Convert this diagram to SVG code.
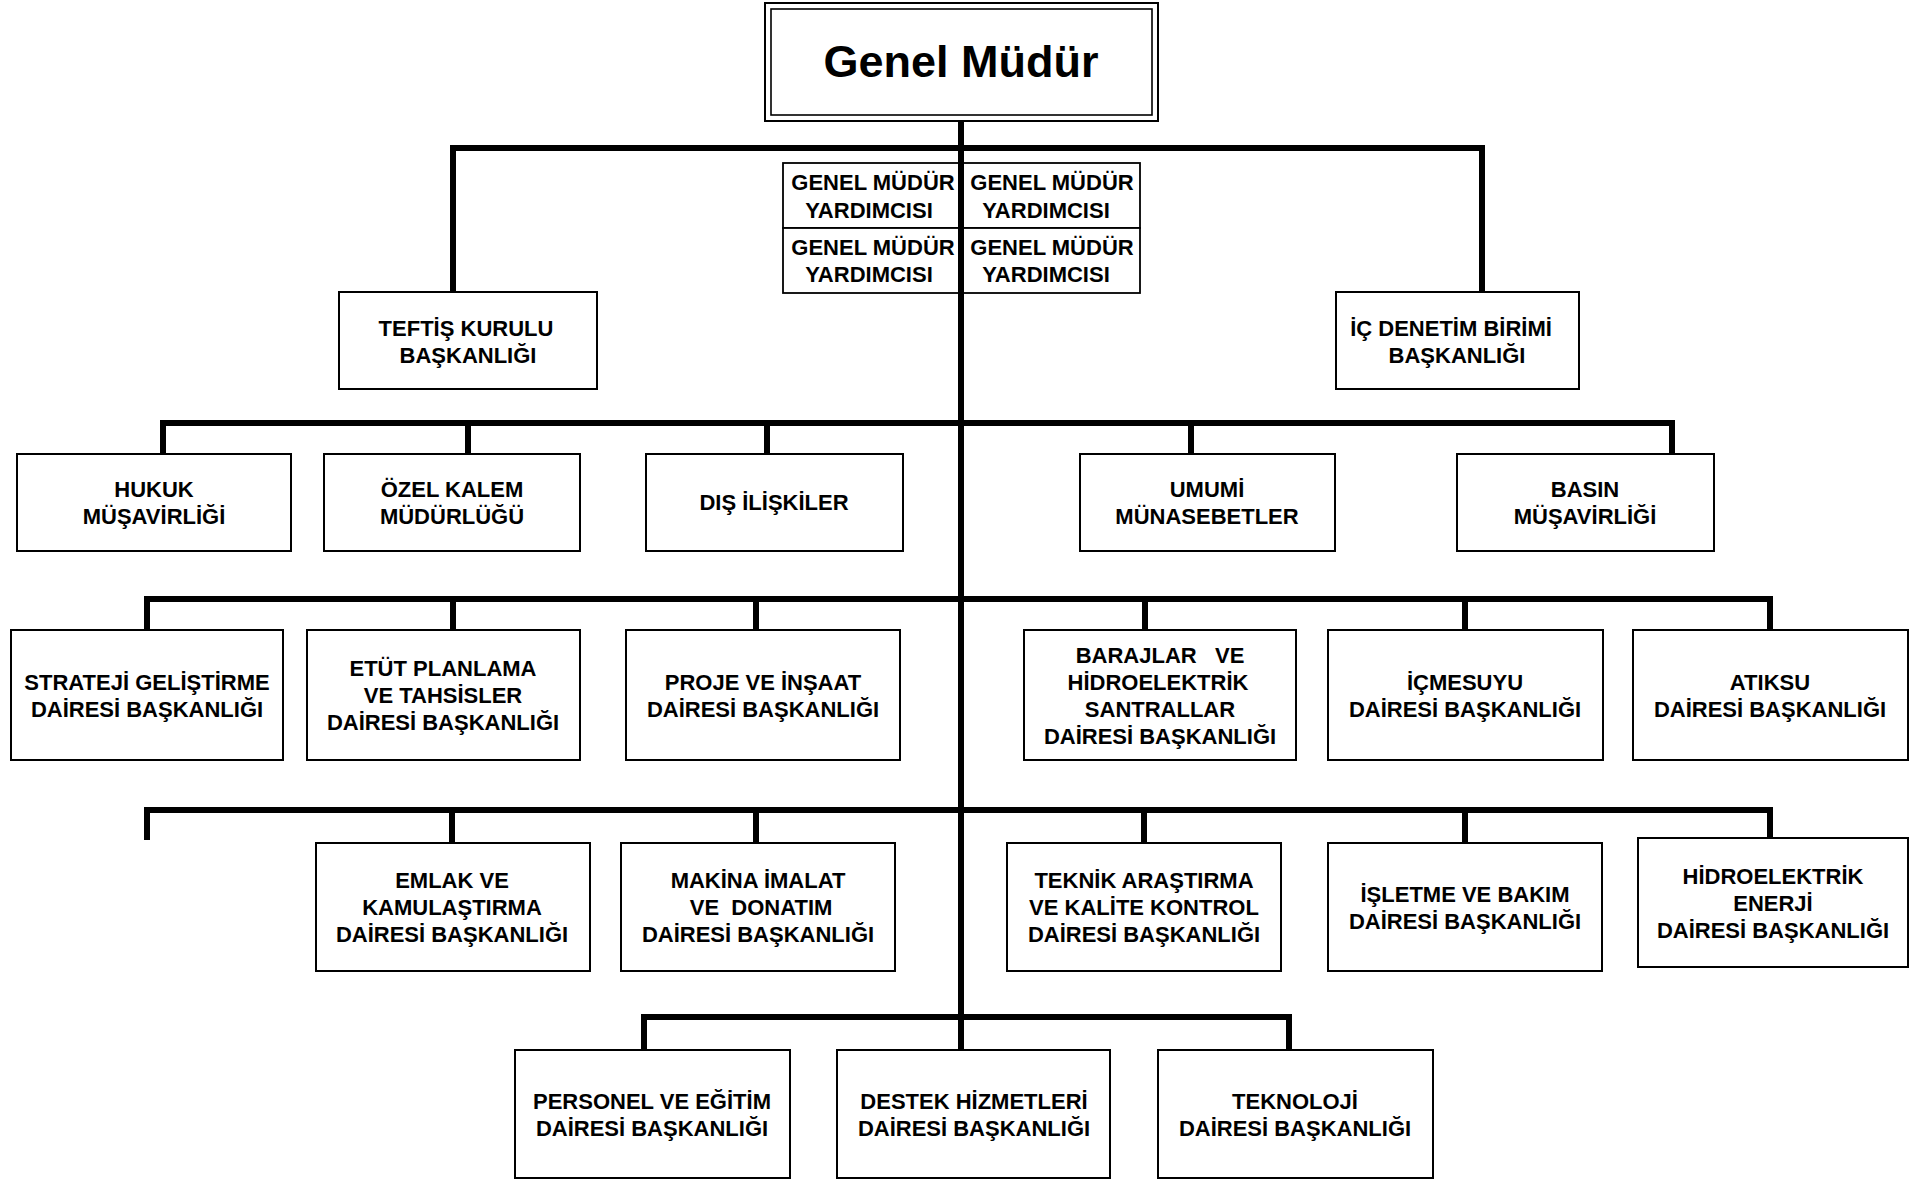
<svg xmlns="http://www.w3.org/2000/svg" width="1910" height="1179" viewBox="0 0 1910 1179">
<style>
.box{fill:#fff;stroke:#000;stroke-width:2}
.cell{fill:#fff;stroke:#000;stroke-width:1.8}
.t{font-family:"Liberation Sans",Arial,sans-serif;font-weight:bold;font-size:22px;fill:#000;text-anchor:middle}
.gm{font-family:"Liberation Sans",Arial,sans-serif;font-weight:bold;font-size:45px;fill:#000;text-anchor:middle}
.c{fill:none;stroke:#000;stroke-width:6;stroke-linejoin:miter}
</style>
<rect width="1910" height="1179" fill="#fff"/>
<g id="genel-mudur">
<rect x="765" y="3" width="393" height="118" fill="#fff" stroke="#000" stroke-width="2"/>
<rect x="771" y="9" width="381" height="106" fill="none" stroke="#000" stroke-width="1.6"/>
<text class="gm" x="961" y="77">Genel Müdür</text>
</g>
<g id="gmy">
<rect class="cell" x="783" y="163" width="178" height="65"/>
<rect class="cell" x="961" y="163" width="179" height="65"/>
<rect class="cell" x="783" y="228" width="178" height="65"/>
<rect class="cell" x="961" y="228" width="179" height="65"/>
<text class="t" x="873" y="190">GENEL MÜDÜR</text>
<text class="t" x="869" y="218">YARDIMCISI</text>
<text class="t" x="1052" y="190">GENEL MÜDÜR</text>
<text class="t" x="1046" y="218">YARDIMCISI</text>
<text class="t" x="873" y="255">GENEL MÜDÜR</text>
<text class="t" x="869" y="282">YARDIMCISI</text>
<text class="t" x="1052" y="255">GENEL MÜDÜR</text>
<text class="t" x="1046" y="282">YARDIMCISI</text>
</g>
<g id="teftis"><rect class="box" x="339" y="292" width="258" height="97"/>
<text class="t" x="466" y="336">TEFTİŞ KURULU</text><text class="t" x="468" y="363">BAŞKANLIĞI</text></g>
<g id="ic-denetim"><rect class="box" x="1336" y="292" width="243" height="97"/>
<text class="t" x="1451" y="336">İÇ DENETİM BİRİMİ</text><text class="t" x="1457" y="363">BAŞKANLIĞI</text></g>

<g id="hukuk"><rect class="box" x="17" y="454" width="274" height="97"/>
<text class="t" x="154" y="497">HUKUK</text><text class="t" x="154" y="524">MÜŞAVİRLİĞİ</text></g>
<g id="ozel-kalem"><rect class="box" x="324" y="454" width="256" height="97"/>
<text class="t" x="452" y="497">ÖZEL KALEM</text><text class="t" x="452" y="524">MÜDÜRLÜĞÜ</text></g>
<g id="dis-iliskiler"><rect class="box" x="646" y="454" width="257" height="97"/>
<text class="t" x="774" y="510">DIŞ İLİŞKİLER</text></g>
<g id="umumi"><rect class="box" x="1080" y="454" width="255" height="97"/>
<text class="t" x="1207" y="497">UMUMİ</text><text class="t" x="1207" y="524">MÜNASEBETLER</text></g>
<g id="basin"><rect class="box" x="1457" y="454" width="257" height="97"/>
<text class="t" x="1585" y="497">BASIN</text><text class="t" x="1585" y="524">MÜŞAVİRLİĞİ</text></g>

<g id="strateji"><rect class="box" x="11" y="630" width="272" height="130"/>
<text class="t" x="147" y="689.5">STRATEJİ GELİŞTİRME</text><text class="t" x="147" y="716.5">DAİRESİ BAŞKANLIĞI</text></g>
<g id="etut"><rect class="box" x="307" y="630" width="273" height="130"/>
<text class="t" x="443" y="676">ETÜT PLANLAMA</text><text class="t" x="443" y="703">VE TAHSİSLER</text><text class="t" x="443" y="730">DAİRESİ BAŞKANLIĞI</text></g>
<g id="proje"><rect class="box" x="626" y="630" width="274" height="130"/>
<text class="t" x="763" y="689.5">PROJE VE İNŞAAT</text><text class="t" x="763" y="716.5">DAİRESİ BAŞKANLIĞI</text></g>
<g id="barajlar"><rect class="box" x="1024" y="630" width="272" height="130"/>
<text class="t" x="1160" y="662.5" xml:space="preserve">BARAJLAR   VE</text><text class="t" x="1158" y="689.5">HİDROELEKTRİK</text><text class="t" x="1160" y="716.5">SANTRALLAR</text><text class="t" x="1160" y="743.5">DAİRESİ BAŞKANLIĞI</text></g>
<g id="icmesuyu"><rect class="box" x="1328" y="630" width="275" height="130"/>
<text class="t" x="1465" y="689.5">İÇMESUYU</text><text class="t" x="1465" y="716.5">DAİRESİ BAŞKANLIĞI</text></g>
<g id="atiksu"><rect class="box" x="1633" y="630" width="275" height="130"/>
<text class="t" x="1770" y="689.5">ATIKSU</text><text class="t" x="1770" y="716.5">DAİRESİ BAŞKANLIĞI</text></g>

<g id="emlak"><rect class="box" x="316" y="843" width="274" height="128"/>
<text class="t" x="452" y="888">EMLAK VE</text><text class="t" x="452" y="915">KAMULAŞTIRMA</text><text class="t" x="452" y="942">DAİRESİ BAŞKANLIĞI</text></g>
<g id="makina"><rect class="box" x="621" y="843" width="274" height="128"/>
<text class="t" x="758" y="888">MAKİNA İMALAT</text><text class="t" x="758" y="915" xml:space="preserve"> VE  DONATIM</text><text class="t" x="758" y="942">DAİRESİ BAŞKANLIĞI</text></g>
<g id="teknik"><rect class="box" x="1007" y="843" width="274" height="128"/>
<text class="t" x="1144" y="888">TEKNİK ARAŞTIRMA</text><text class="t" x="1144" y="915">VE KALİTE KONTROL</text><text class="t" x="1144" y="942">DAİRESİ BAŞKANLIĞI</text></g>
<g id="isletme"><rect class="box" x="1328" y="843" width="274" height="128"/>
<text class="t" x="1465" y="901.5">İŞLETME VE BAKIM</text><text class="t" x="1465" y="928.5">DAİRESİ BAŞKANLIĞI</text></g>
<g id="hidroelektrik"><rect class="box" x="1638" y="838" width="270" height="129"/>
<text class="t" x="1773" y="883.5">HİDROELEKTRİK</text><text class="t" x="1773" y="910.5">ENERJİ</text><text class="t" x="1773" y="937.5">DAİRESİ BAŞKANLIĞI</text></g>

<g id="personel"><rect class="box" x="515" y="1050" width="275" height="128"/>
<text class="t" x="652" y="1108.5">PERSONEL VE EĞİTİM</text><text class="t" x="652" y="1135.5">DAİRESİ BAŞKANLIĞI</text></g>
<g id="destek"><rect class="box" x="837" y="1050" width="273" height="128"/>
<text class="t" x="974" y="1108.5">DESTEK HİZMETLERİ</text><text class="t" x="974" y="1135.5">DAİRESİ BAŞKANLIĞI</text></g>
<g id="teknoloji"><rect class="box" x="1158" y="1050" width="275" height="128"/>
<text class="t" x="1295" y="1108.5">TEKNOLOJİ</text><text class="t" x="1295" y="1135.5">DAİRESİ BAŞKANLIĞI</text></g>

<g id="connectors">
<path class="c" d="M961,121 V1050"/>
<path class="c" d="M453,292 V148 H1482 V292"/>
<path class="c" d="M163,454 V423 H1672 V454 M468,423 V454 M767,423 V454 M1191,423 V454"/>
<path class="c" d="M147,630 V599 H1770 V630 M453,599 V630 M756,599 V630 M1145,599 V630 M1465,599 V630"/>
<path class="c" d="M147,840 V810 H1770 V838 M452,810 V843 M756,810 V843 M1144,810 V843 M1465,810 V843"/>
<path class="c" d="M644,1050 V1017 H1289 V1050"/>
</g>
</svg>
